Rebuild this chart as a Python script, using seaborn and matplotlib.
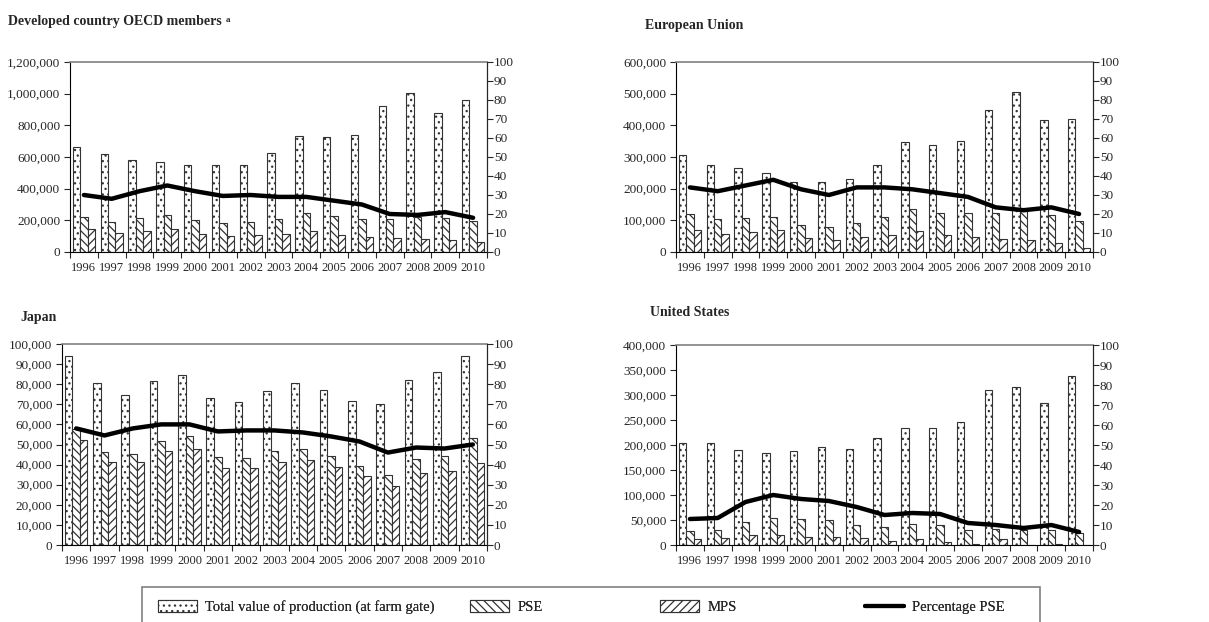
import numpy as np
import pandas as pd
import matplotlib
matplotlib.use("Agg")
import matplotlib.pyplot as plt
import seaborn as sns
from matplotlib.patches import Patch, Rectangle
from matplotlib.lines import Line2D
from matplotlib.ticker import FuncFormatter, MultipleLocator

years = [str(y) for y in range(1996, 2011)]
series_names = ["Total value of production (at farm gate)", "PSE", "MPS"]
line_name = "Percentage PSE"

# Developed country OECD members
oecd_total = [665000, 620000, 582000, 567000, 550000, 550000, 547000, 627000,
              732000, 725000, 742000, 922000, 1005000, 878000, 960000]
oecd_pse = [222000, 192000, 213000, 232000, 202000, 185000, 190000, 207000,
            245000, 225000, 210000, 208000, 218000, 212000, 198000]
oecd_mps = [143000, 120000, 133000, 145000, 115000, 98000, 107000, 113000,
            130000, 108000, 95000, 88000, 80000, 75000, 65000]
oecd_pct = [30, 28, 32, 35, 32, 29.5, 30, 29, 29, 27, 25, 20, 19.5, 21, 18]

# European Union
eu_total = [307000, 275000, 266000, 249000, 222000, 222000, 229000, 274000,
            348000, 339000, 349000, 448000, 506000, 416000, 421000]
eu_pse = [120000, 103000, 108000, 111000, 86000, 80000, 92000, 110000,
          137000, 124000, 124000, 124000, 130000, 118000, 99000]
eu_mps = [70000, 57000, 64000, 70000, 45000, 37000, 48000, 55000,
          67000, 54000, 46000, 40000, 37000, 28000, 14000]
eu_pct = [34, 32, 35, 38, 33, 30, 34, 34, 33, 31, 29, 23.5, 22, 23.5, 20]

# Japan
jp_total = [94000, 80500, 74500, 81500, 84500, 73000, 71000, 76500,
            80500, 77000, 71500, 70000, 82000, 86000, 94000]
jp_pse = [57500, 46500, 45500, 51500, 54000, 44000, 43500, 47000,
          48000, 44500, 39500, 35000, 43000, 44500, 53000]
jp_mps = [52000, 41500, 41500, 47000, 48000, 38500, 38500, 41500,
          42500, 39000, 34500, 29500, 36000, 37000, 41000]
jp_pct = [58, 54.5, 58, 60, 60, 56.5, 57, 57, 56, 54, 51.5, 46, 48.5, 48, 50]

# United States
us_total = [204000, 205000, 190000, 184000, 189000, 197000, 193000, 214000,
            234000, 234000, 246000, 311000, 317000, 285000, 339000]
us_pse = [28000, 30000, 46000, 55000, 52000, 50000, 40000, 36000,
          42000, 40000, 30000, 32000, 30000, 30000, 25000]
us_mps = [13000, 14000, 20000, 20000, 16000, 17000, 14000, 9000,
          12000, 7000, 3000, 12000, 500, 3000, 1000]
us_pct = [13, 13.5, 21.5, 25, 23, 22, 19, 15, 16, 15.5, 11, 10, 8.5, 10, 6.5]

panels = [
    ("Developed country OECD members", oecd_total, oecd_pse, oecd_mps, oecd_pct,
     1200000, 200000, [70, 252, 487, 62], (8, 21)),
    ("European Union", eu_total, eu_pse, eu_mps, eu_pct,
     600000, 100000, [676, 252, 1093, 62], (645, 26)),
    ("Japan", jp_total, jp_pse, jp_mps, jp_pct,
     100000, 10000, [62, 545, 487, 344], (20, 318)),
    ("United States", us_total, us_pse, us_mps, us_pct,
     400000, 50000, [676, 545, 1093, 345], (650, 312)),
]

sns.set_style("ticks")
plt.rcParams["font.family"] = ["Liberation Serif", "DejaVu Serif"]
plt.rcParams["hatch.linewidth"] = 0.9

W, H = 1209, 622
fig = plt.figure(figsize=(W / 100, H / 100), dpi=100)

hatches = ["...", "\\\\\\\\", "////"]
edge = "#333333"

for title, total, pse, mps, pct, ymax, ystep, box, tpos in panels:
    l, b, r, t = box
    ax = fig.add_axes([l / W, 1 - b / H, (r - l) / W, (b - t) / H])
    df = pd.DataFrame({
        "year": years * 3,
        "series": np.repeat(series_names, len(years)),
        "value": total + pse + mps,
    })
    sns.barplot(data=df, x="year", y="value", hue="series", hue_order=series_names,
                palette=["white"] * 3, edgecolor=edge, linewidth=0.8,
                width=0.8, legend=False, ax=ax)
    for cont, h in zip(ax.containers, hatches):
        for p in cont:
            p.set_hatch(h)
    ax.set_xlim(-0.5, len(years) - 0.5)
    ax.set_ylim(0, ymax)
    ax.yaxis.set_major_locator(MultipleLocator(ystep))
    ax.yaxis.set_major_formatter(FuncFormatter(lambda v, _: f"{v:,.0f}"))
    ax.set_xlabel("")
    ax.set_ylabel("")
    ax.set_xticks(np.arange(-0.5, len(years), 1), minor=True)
    ax.tick_params(axis="x", which="major", length=0, pad=7, labelsize=9)
    ax.tick_params(axis="x", which="minor", length=4, width=0.8, direction="out")
    ax.tick_params(axis="y", length=4, width=0.8, direction="out", labelsize=9.5, pad=3)
    for s in ax.spines.values():
        s.set_linewidth(0.8)
        s.set_color("black")
    ax.spines["top"].set_color("#808080")
    ax.spines["top"].set_linewidth(1.2)

    # percentage PSE on the secondary axis
    ax2 = ax.twinx()
    sns.lineplot(x=np.arange(len(years)), y=pct, color="black", linewidth=3.2, ax=ax2)
    ax2.set_ylim(0, 100)
    ax2.yaxis.set_major_locator(MultipleLocator(10))
    ax2.tick_params(axis="y", length=4, width=0.8, direction="out", labelsize=9.5, pad=1)
    for s in ax2.spines.values():
        s.set_visible(False)
    ax2.spines["right"].set_visible(True)
    ax2.spines["right"].set_linewidth(0.8)

    txt = fig.text(tpos[0] / W, 1 - tpos[1] / H, title, fontsize=10,
                   fontweight="bold", va="center", ha="left")
    if title.startswith("Developed"):
        ax.annotate("a", xy=(1, 1), xycoords=txt, xytext=(3, -1),
                    textcoords="offset points", fontsize=6.5, fontweight="bold",
                    va="top", ha="left")

# legend: framed box with four entries placed like the original
fig.patches.append(Rectangle((142 / W, -0.02), 898 / W, 0.02 + 35 / H,
                             transform=fig.transFigure, facecolor="none",
                             edgecolor="#808080", linewidth=1.2))
handles = [
    Patch(facecolor="white", edgecolor=edge, hatch=hatches[0], linewidth=0.8),
    Patch(facecolor="white", edgecolor=edge, hatch=hatches[1], linewidth=0.8),
    Patch(facecolor="white", edgecolor=edge, hatch=hatches[2], linewidth=0.8),
    Line2D([0], [0], color="black", linewidth=3),
]
labels = series_names + [line_name]
entry_x = [158, 470, 660, 865]
for h, lab, x0 in zip(handles, labels, entry_x):
    lg = fig.legend([h], [lab], loc="center left",
                    bbox_to_anchor=(x0 / W, 1 - 607 / H), fontsize=10.5,
                    frameon=False, handlelength=2.7, handleheight=0.9,
                    handletextpad=0.55, borderpad=0, borderaxespad=0)
    fig.add_artist(lg)

fig.savefig("out.png", dpi=100)
